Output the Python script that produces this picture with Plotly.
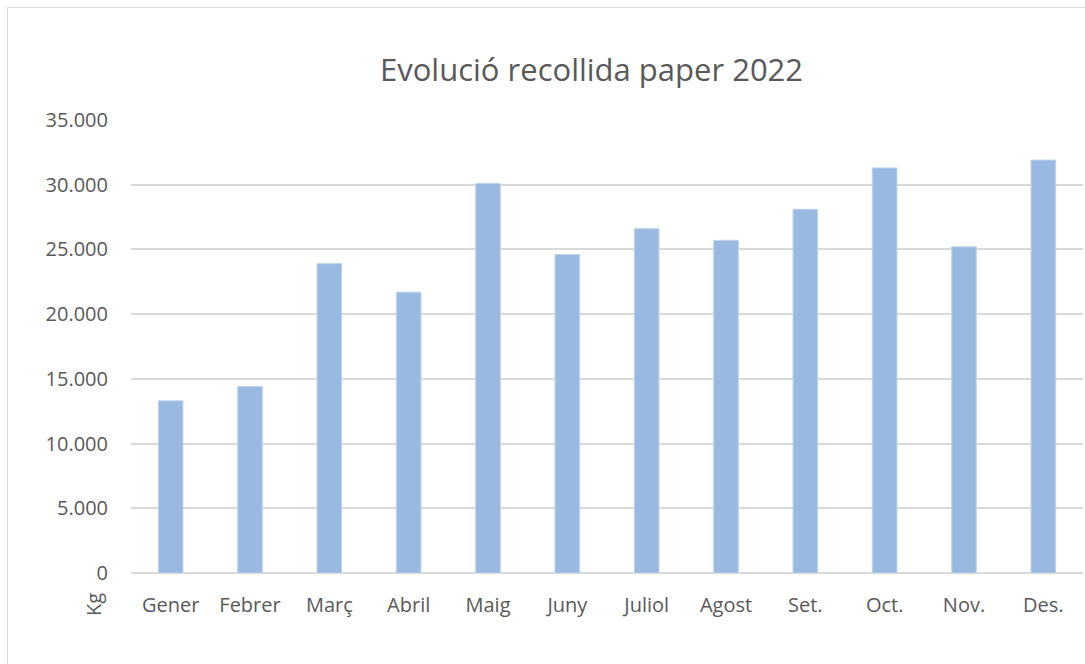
import plotly.graph_objects as go

months = ["Gener", "Febrer", "Març", "Abril", "Maig", "Juny", "Juliol",
          "Agost", "Set.", "Oct.", "Nov.", "Des."]
kg = [13300, 14400, 23900, 21700, 30100, 24600, 26600, 25700, 28100, 31300, 25200, 31900]
y_ticks = [0, 5000, 10000, 15000, 20000, 25000, 30000, 35000]

W, H = 1085, 664
ML, MR, MT, MB = 131, 2, 120, 91
PW = W - ML - MR
PH = H - MT - MB

def px_x(px):
    return (px - ML) / PW

def px_y(py):
    return (H - MB - py) / PH

font = "Open Sans"
grey = "#595959"

fig = go.Figure(go.Bar(
    x=months, y=kg,
    marker=dict(color="#99B9E0", line=dict(color="#BDD3EE", width=1)),
    hoverinfo="x+y",
))

fig.update_layout(
    width=W, height=H,
    margin=dict(l=ML, r=MR, t=MT, b=MB),
    paper_bgcolor="white", plot_bgcolor="white",
    bargap=0.69,
    separators=",.",
    showlegend=False,
    font=dict(family=font, color=grey),
    xaxis=dict(
        showgrid=False, showline=False, zeroline=False,
        tickfont=dict(size=20, color=grey, family=font),
        ticklabelstandoff=18,
    ),
    yaxis=dict(
        range=[0, 35000], tickvals=y_ticks, tickformat=",d",
        showgrid=True, gridcolor="#D9D9D9", gridwidth=1.5,
        zeroline=True, zerolinecolor="#D9D9D9", zerolinewidth=1.5,
        showline=False,
        tickfont=dict(size=20, color=grey, family=font),
        ticklabelstandoff=22,
    ),
    annotations=[
        dict(text="Evolució recollida paper 2022", xref="paper", yref="paper",
             x=px_x(591), y=px_y(69), xanchor="center", yanchor="middle",
             showarrow=False, font=dict(size=31, color=grey, family=font)),
        dict(text="Kg", xref="paper", yref="paper",
             x=px_x(93), y=px_y(605), xanchor="center", yanchor="middle",
             textangle=-90, showarrow=False,
             font=dict(size=20, color=grey, family=font)),
    ],
    shapes=[
        dict(type="rect", xref="paper", yref="paper",
             x0=px_x(7.5), x1=px_x(1100), y0=px_y(700), y1=px_y(7.5),
             line=dict(color="#D9D9D9", width=1), fillcolor="rgba(0,0,0,0)",
             layer="below"),
    ],
)

fig.write_html("out.html",
               config={"displayModeBar": False},
               post_script="document.body.style.margin='0';document.body.style.overflow='hidden';")
